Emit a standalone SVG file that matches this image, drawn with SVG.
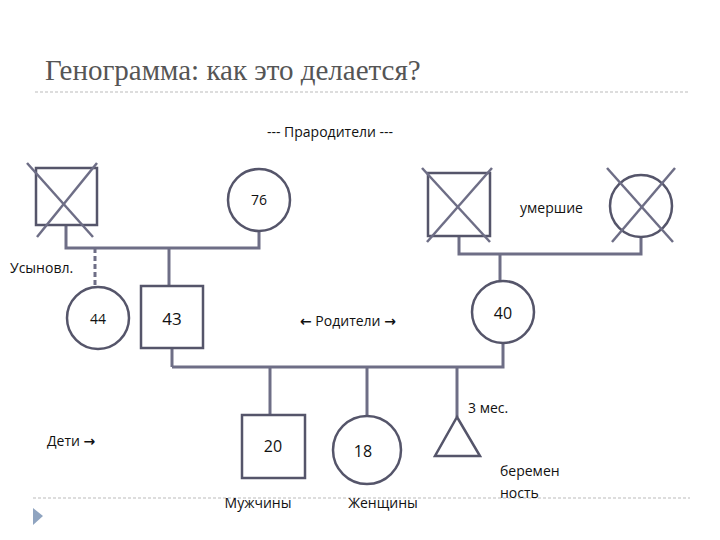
<svg xmlns="http://www.w3.org/2000/svg" width="720" height="540" viewBox="0 0 720 540">
<style>
.s{fill:#fff;stroke:#55556a;stroke-width:2.5}
.x{stroke:#6e6e86;stroke-width:2.5}
.l{stroke:#6e6e86;stroke-width:3;fill:none}
text{font-family:"Open Sans","Noto Sans",sans-serif;fill:#111;font-size:14px}
.a{font-family:"DejaVu Sans",sans-serif;font-weight:bold}
.c{text-anchor:middle}
</style>
<rect width="720" height="540" fill="#fff"/>
<text x="45" y="80" style="font-family:'Liberation Serif',serif;font-size:29px;fill:#555">Генограмма: как это делается?</text>
<line x1="35" y1="92" x2="690" y2="92" stroke="#bbb" stroke-dasharray="3,2"/>
<line x1="33" y1="498" x2="690" y2="498" stroke="#bbb" stroke-dasharray="3,2"/>
<polygon points="33,508 43,516 33,525" fill="#8fa4c0"/>
<text x="330" y="137" class="c">--- Прародители ---</text>
<g id="connectors">
<polyline class="l" points="66,225 66,248 259,248 259,231"/>
<line class="l" x1="169" y1="248" x2="169" y2="286"/>
<line class="l" x1="95" y1="248" x2="95" y2="286" stroke-dasharray="5,3"/>
<polyline class="l" points="459,236 459,254 641,254 641,237"/>
<line class="l" x1="500" y1="254" x2="500" y2="281"/>
<line class="l" x1="172" y1="348" x2="172" y2="367"/>
<polyline class="l" points="172,367 503,367 503,343"/>
<line class="l" x1="270" y1="367" x2="270" y2="415"/>
<line class="l" x1="367" y1="367" x2="367" y2="416"/>
<line class="l" x1="457" y1="367" x2="457" y2="417"/>
</g>
<g id="gf1"><rect class="s" x="36" y="168" width="61" height="57"/><line class="x" x1="27" y1="163" x2="93" y2="237"/><line class="x" x1="97" y1="163" x2="37" y2="237"/></g>
<g id="gm1"><circle class="s" cx="259" cy="200" r="31"/><text x="259" y="205" class="c">76</text></g>
<g id="gf2"><rect class="s" x="428" y="173" width="62" height="63"/><line class="x" x1="422" y1="168" x2="490" y2="242"/><line class="x" x1="492" y1="168" x2="427" y2="242"/></g>
<g id="gm2"><circle class="s" cx="641" cy="206" r="31"/><line class="x" x1="607" y1="168" x2="673" y2="242"/><line class="x" x1="675" y1="168" x2="612" y2="242"/></g>
<text x="520" y="213">умершие</text>
<text x="10" y="273">Усыновл.</text>
<g id="p44"><circle class="s" cx="98" cy="318" r="31"/><text x="98" y="324" class="c">44</text></g>
<g id="p43"><rect class="s" x="141" y="286" width="62" height="62"/><text x="172" y="325" class="c" style="font-size:17px">43</text></g>
<text x="300" y="326"><tspan class="a">←</tspan> Родители <tspan class="a">→</tspan></text>
<g id="p40"><circle class="s" cx="503" cy="312" r="31"/><text x="503" y="319" class="c" style="font-size:16px">40</text></g>
<g id="c20"><rect class="s" x="242" y="415" width="63" height="63"/><text x="273" y="452" class="c" style="font-size:16px">20</text></g>
<g id="c18"><circle class="s" cx="367" cy="450" r="34"/><text x="363" y="457" class="c" style="font-size:16px">18</text></g>
<g id="preg"><polygon class="s" points="457,417 480,456 435,456"/></g>
<text x="468" y="413">3 мес.</text>
<text x="500" y="476">беремен</text>
<text x="500" y="498">ность</text>
<text x="47" y="446">Дети <tspan class="a">→</tspan></text>
<text x="258" y="508" class="c">Мужчины</text>
<text x="383" y="508" class="c">Женщины</text>
</svg>
